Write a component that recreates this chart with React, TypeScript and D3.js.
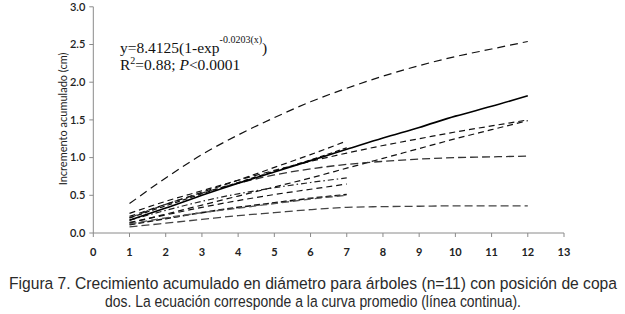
import React from "react";
import * as d3 from "d3";

const years = [1, 2, 3, 4, 5, 6, 7, 8, 9, 10, 11, 12];
const shortYears = [1, 2, 3, 4, 5, 6, 7];
const xTicks = [0, 1, 2, 3, 4, 5, 6, 7, 8, 9, 10, 11, 12, 13];
const yTicks = [0, 0.5, 1.0, 1.5, 2.0, 2.5, 3.0];

const meanCurve = [0.17, 0.33, 0.5, 0.66, 0.81, 0.96, 1.11, 1.26, 1.4, 1.55, 1.68, 1.82];
const treeA = [0.39, 0.73, 1.04, 1.3, 1.53, 1.74, 1.92, 2.08, 2.22, 2.34, 2.44, 2.54];
const treeB = [0.26, 0.42, 0.56, 0.7, 0.83, 0.95, 1.06, 1.16, 1.25, 1.34, 1.42, 1.5];
const treeC = [0.13, 0.25, 0.37, 0.49, 0.61, 0.73, 0.86, 0.99, 1.12, 1.25, 1.37, 1.49];
const treeD = [0.2, 0.38, 0.53, 0.66, 0.77, 0.85, 0.91, 0.95, 0.98, 1.0, 1.01, 1.02];
const treeE = [0.08, 0.13, 0.18, 0.23, 0.27, 0.31, 0.34, 0.35, 0.355, 0.36, 0.36, 0.36];
const treeF = [0.22, 0.38, 0.54, 0.7, 0.87, 1.04, 1.22];
const treeG = [0.2, 0.36, 0.52, 0.67, 0.82, 0.97, 1.13];
const treeH = [0.17, 0.3, 0.42, 0.52, 0.6, 0.67, 0.73];
const treeI = [0.14, 0.24, 0.34, 0.43, 0.51, 0.58, 0.65];
const treeJ = [0.11, 0.19, 0.27, 0.34, 0.4, 0.46, 0.51];
const treeK = [0.12, 0.2, 0.27, 0.33, 0.39, 0.45, 0.5];

const yLabel = "Incremento acumulado (cm)";
const caption1 = "Figura 7. Crecimiento acumulado en diámetro para árboles (n=11) con posición de copa";
const caption2 = "dos. La ecuación corresponde a la curva promedio (línea continua).";

type S = { x: number[]; y: number[]; dash: string; color: string; width: number };

const series: S[] = [
  { x: years, y: treeA, dash: "8,5", color: "#111", width: 1.2 },
  { x: years, y: treeB, dash: "6,4", color: "#111", width: 1.2 },
  { x: years, y: treeC, dash: "6,4", color: "#111", width: 1.2 },
  { x: years, y: treeD, dash: "8,4", color: "#333", width: 1.3 },
  { x: years, y: treeE, dash: "8,4", color: "#444", width: 1.3 },
  { x: shortYears, y: treeF, dash: "6,4", color: "#111", width: 1.2 },
  { x: shortYears, y: treeG, dash: "5,3", color: "#111", width: 1.2 },
  { x: shortYears, y: treeH, dash: "6,3,1.5,3", color: "#222", width: 1.2 },
  { x: shortYears, y: treeI, dash: "6,4", color: "#111", width: 1.2 },
  { x: shortYears, y: treeJ, dash: "6,3", color: "#111", width: 1.6 },
  { x: shortYears, y: treeK, dash: "7,4", color: "#555", width: 1.4 },
];

export default function App() {
  const x = d3.scaleLinear().domain([0, 13]).range([93.3, 564]);
  const y = d3.scaleLinear().domain([0, 3]).range([233, 6.8]);
  const line = (xs: number[], ys: number[]) =>
    d3
      .line<number>()
      .x((_, i) => x(xs[i]))
      .y((d) => y(d))
      .curve(d3.curveMonotoneX)(ys) as string;

  const axisColor = "#8a8a8a";
  const tickFont = "Lato, 'Open Sans', sans-serif";
  const serif = "'Liberation Serif', 'Times New Roman', serif";

  return (
    <svg
      width={625}
      height={314}
      style={{ position: "absolute", left: 0, top: 0, background: "#fff" }}
    >
      <rect width={625} height={314} fill="#fff" />
      {/* y axis */}
      <line x1={x(0)} x2={x(0)} y1={y(3)} y2={y(0)} stroke={axisColor} strokeWidth={1} />
      {yTicks.map((t) => (
        <g key={"y" + t}>
          <line x1={x(0) - 4} x2={x(0)} y1={y(t)} y2={y(t)} stroke={axisColor} />
          <text
            x={x(0) - 8}
            y={y(t)}
            dy="0.35em"
            textAnchor="end"
            fontFamily={tickFont}
            fontSize={11}
            fontWeight={600}
            fill="#222"
          >
            {t.toFixed(1)}
          </text>
        </g>
      ))}
      {/* x axis */}
      <line x1={x(0)} x2={x(13)} y1={y(0)} y2={y(0)} stroke={axisColor} strokeWidth={1} />
      {xTicks.map((t) => (
        <g key={"x" + t}>
          <line x1={x(t)} x2={x(t)} y1={y(0)} y2={y(0) + 4} stroke={axisColor} />
          <text
            x={x(t)}
            y={y(0) + 19}
            dy="0.35em"
            textAnchor="middle"
            fontFamily={tickFont}
            fontSize={11}
            fontWeight="bold"
            fill="#222"
          >
            {t}
          </text>
        </g>
      ))}
      <text
        transform={`translate(63,${(y(0) + y(3)) / 2 - 1}) rotate(-90)`}
        textAnchor="middle"
        dy="0.35em"
        fontFamily={tickFont}
        fontSize={11}
        fill="#222"
      >
        {yLabel}
      </text>

      {/* series */}
      {series.map((s, i) => (
        <path
          key={i}
          d={line(s.x, s.y)}
          fill="none"
          stroke={s.color}
          strokeWidth={s.width}
          strokeDasharray={s.dash}
        />
      ))}
      <path d={line(years, meanCurve)} fill="none" stroke="#000" strokeWidth={1.6} />

      {/* equation */}
      <text x={120} y={53} fontFamily={serif} fontSize={15.5} fill="#111">
        y=8.4125(1-exp
        <tspan fontSize={10} dy={-10}>-0.0203(x)</tspan>
        <tspan dy={10}>)</tspan>
      </text>
      <text x={120} y={70} fontFamily={serif} fontSize={15.5} fill="#111">
        R<tspan fontSize={10} dy={-6}>2</tspan>
        <tspan dy={6}>=0.88; </tspan>
        <tspan fontStyle="italic">P</tspan>
        <tspan>&lt;0.0001</tspan>
      </text>

      {/* caption */}
      <g transform="translate(0,289) scale(1,1.08)">
        <text
          x={313}
          y={0}
          textAnchor="middle"
          fontFamily="'Liberation Sans', Arial, sans-serif"
          fontSize={15.3}
          fill="#2a2a2a"
          textLength={608}
          lengthAdjust="spacingAndGlyphs"
        >
          {caption1}
        </text>
      </g>
      <g transform="translate(0,307) scale(1,1.08)">
        <text
          x={313}
          y={0}
          textAnchor="middle"
          fontFamily="'Liberation Sans', Arial, sans-serif"
          fontSize={15.3}
          fill="#2a2a2a"
          textLength={416}
          lengthAdjust="spacingAndGlyphs"
        >
          {caption2}
        </text>
      </g>
    </svg>
  );
}
